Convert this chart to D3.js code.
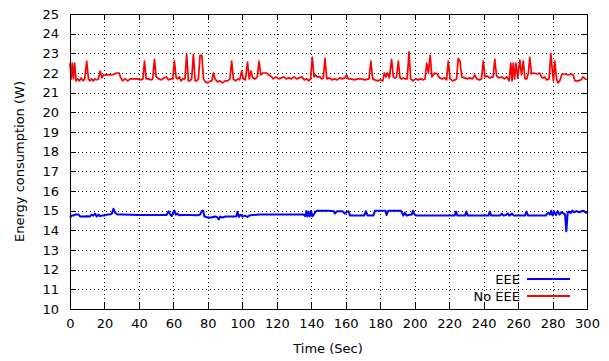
<!DOCTYPE html>
<html>
<head>
<meta charset="utf-8">
<script src="https://cdn.jsdelivr.net/npm/d3@7"></script>
<style>
  html, body { margin: 0; padding: 0; background: #fff; }
  svg { display: block; font-family: "DejaVu Sans", sans-serif; }
</style>
</head>
<body>
<svg id="chart" width="609" height="361"></svg>
<script>
// Power draw of the link over a 300 s capture, with and without Energy Efficient Ethernet
const noEeeTime = [0,0.7,1.3,2,2.7,3.5,4.5,5.5,6.5,7.5,8.5,9.7,10.7,11.5,12.5,13.5,14.5,15.5,16.5,17.5,18.5,19.5,22,25,27,28.5,29.5,30.5,32,33.5,35,37,39,41,42.3,43.2,44.2,45.5,47,48,49,50,51.5,53,54.5,56,57,58.5,59.6,60.6,61.6,62.5,63.5,64.5,65.5,66.7,67.7,68.7,69.5,70.6,71.6,72.6,73.5,74.5,75.5,76.5,77.5,78.5,80,81.5,82.3,83.2,84.2,85.5,87,88.5,90,91.5,92.8,93.8,94.8,96,97.5,98.5,99.6,100.6,101.8,103,104,105,106,107.5,108.7,109.7,110.7,112,114,115.5,117,118,119.5,121,122.5,124,125.5,127,128.5,130,131.5,133,134.5,136,137.5,138.5,139.6,140.6,141.6,142.5,143.5,145,146,147,148,149,150.5,152,153.5,155,156.5,158,159.5,160.5,161.5,163,165,167,169,171,173.5,174.6,175.6,177,178.5,180,181.5,182.4,183.3,184.2,185.3,186.6,187.6,188.5,189.5,190.5,191.5,192.5,193.5,194.5,195.7,196.7,197.7,199,200.5,202,203.5,205,206,207,208,209,210,211.5,213,214.5,216,217.5,218.5,219.5,220.5,222,223.5,224.3,225.3,226.3,227.3,229,230.5,232,233.5,235,236,237.5,238.8,239.8,240.8,242,243.5,245.5,246.5,247.5,249,250.5,252,253.5,254.8,255.8,256.5,257.2,258,258.8,259.8,261,262,263,264,265,266,266.8,267.8,269,271,272.5,273.6,274.5,275.5,276.5,278,279,280,280.5,281.3,282.3,283.2,284.2,285.5,287,289,291,292,293,295,296.5,297.7,299,300];
const noEeePower = [22.5,21.7,22.5,21.7,22.5,21.6,21.7,21.6,21.75,21.6,21.7,22.6,21.7,21.6,21.7,21.6,21.7,21.65,21.7,22.1,21.75,21.9,21.9,21.92,22.0,22.0,21.75,21.6,21.7,21.6,21.7,21.7,21.7,21.65,21.7,22.6,21.7,21.7,21.65,21.7,22.7,21.8,21.7,21.65,21.75,21.8,21.65,21.7,21.7,22.6,21.75,21.7,21.8,21.6,21.7,21.7,22.95,21.6,21.6,21.7,22.95,21.6,21.6,21.7,22.9,22.9,21.7,21.55,21.5,21.6,21.6,22.0,21.7,21.55,21.6,21.5,21.6,21.6,21.7,22.6,21.7,21.6,21.7,21.65,22.1,21.7,21.65,22.55,21.7,22.1,21.75,21.7,21.8,22.6,21.9,22.0,22.0,21.9,21.8,21.7,21.8,21.7,21.75,21.8,21.7,21.75,21.7,21.8,21.7,21.75,21.8,21.65,21.7,21.6,21.7,22.8,21.8,21.9,21.8,21.8,21.7,21.75,22.75,21.7,21.75,21.65,21.7,21.65,21.75,21.7,21.75,21.9,21.7,21.7,21.65,21.7,21.7,21.65,21.7,22.6,21.7,21.65,21.6,21.65,21.6,22.0,21.8,22.0,21.75,22.7,21.8,21.75,21.8,22.6,21.75,21.7,21.75,21.7,21.7,23.08,21.7,21.6,21.7,21.65,21.7,21.65,21.7,22.5,22.0,22.9,21.8,22.0,21.95,21.75,21.7,21.75,21.65,22.6,21.7,21.6,21.65,21.7,22.75,22.6,21.8,21.75,21.7,21.75,21.7,21.9,21.7,21.65,21.7,22.6,21.8,21.85,21.75,21.8,22.7,21.85,21.75,21.8,21.7,21.8,21.6,22.5,21.6,22.5,21.7,22.5,21.75,22.65,21.9,22.6,21.7,21.7,22.0,22.8,21.95,22.0,21.95,22.0,21.8,21.75,21.8,21.65,21.7,23.0,22.0,21.6,22.6,21.7,21.5,21.6,21.95,21.95,21.9,21.95,21.9,21.6,21.6,21.65,21.8,21.7,21.65];

const eeeTime = [0,1,2,3,5,6,8,10,11.5,12.5,13.5,14.5,15.5,16.5,17.5,18.5,20,21.5,23,24.3,25.2,26.2,27.5,30,40,50,56,57.2,58.2,59,59.8,60.6,61.4,62.3,63.3,65,70,74,75.5,76.5,77.3,78,80,82,84,85.3,86.3,87.2,88.5,90,93,95.5,96.5,97.2,98,99,100,101.5,103,104,106,110,120,130,135.5,136.5,137.2,137.8,138.5,139.2,139.9,140.6,141.5,142.5,143.5,150,153,153.7,154.8,158,159.6,160.6,161.6,162.5,165,170.7,171.7,172.7,175,176,177,183,183.7,184.7,192,193.4,194.3,195.3,196.5,198.3,199,200,201,210,220,223.2,224,224.8,229.2,230,230.8,242.8,243.6,244.4,249.5,250.5,251.5,253,254,255,256.5,257.5,264,264.9,265.8,276,277.5,278.5,279.3,280,281,282,283,284,285,286.5,287.3,288,288.8,289.5,290.5,291.5,292.5,294,295.5,297,298,299,300];
const eeePower = [14.65,14.75,14.75,14.8,14.8,14.7,14.7,14.72,14.7,14.8,14.75,14.85,14.7,14.8,14.72,14.75,14.75,14.8,14.8,14.85,15.1,14.9,14.8,14.8,14.78,14.78,14.78,14.97,14.8,14.72,14.9,15.0,14.8,14.85,14.77,14.78,14.78,14.77,14.8,14.98,15.0,14.7,14.65,14.65,14.7,14.68,14.55,14.7,14.65,14.7,14.7,14.7,14.72,14.95,14.68,14.8,14.7,14.75,14.68,14.75,14.78,14.8,14.8,14.8,14.8,14.72,14.98,14.7,14.95,14.72,14.98,14.72,14.8,14.95,15.0,15.0,14.97,14.85,14.97,14.97,14.85,14.95,14.97,14.75,14.75,14.75,14.97,14.75,14.75,14.75,15.0,15.0,14.78,15.0,15.0,14.75,14.9,14.75,14.78,14.8,15.0,14.8,14.75,14.75,14.75,14.75,14.95,14.75,14.75,14.95,14.75,14.75,14.95,14.75,14.75,14.85,14.75,14.78,14.86,14.75,14.85,14.75,14.75,14.95,14.75,14.75,14.9,14.8,15.0,14.75,14.95,14.78,14.98,14.8,14.92,14.85,14.8,13.95,14.9,14.95,14.88,15.0,14.92,14.98,14.92,14.97,15.0,14.92,14.88];

const xTicks = [0,20,40,60,80,100,120,140,160,180,200,220,240,260,280,300];
const yTicks = [10,11,12,13,14,15,16,17,18,19,20,21,22,23,24,25];
const seriesNames = ["EEE", "No EEE"];
const seriesColors = ["#0000ff", "#ff0000"];

const svg = d3.select("#chart");
const plot = { left: 70, right: 587, top: 14, bottom: 309 };

const x = d3.scaleLinear().domain([0, 300]).range([plot.left, plot.right]);
const y = d3.scaleLinear().domain([10, 25]).range([plot.bottom, plot.top]);

// dotted grid
const grid = svg.append("g").attr("stroke", "#000").attr("stroke-width", 1)
  .attr("stroke-dasharray", "1,3").attr("shape-rendering", "crispEdges");
grid.selectAll(".gx").data(xTicks.slice(1, -1)).join("line")
  .attr("x1", d => Math.round(x(d)) + 0.5).attr("x2", d => Math.round(x(d)) + 0.5)
  .attr("y1", plot.top).attr("y2", plot.bottom);
grid.selectAll(".gy").data(yTicks.slice(1, -1)).join("line")
  .attr("y1", d => Math.round(y(d)) + 0.5).attr("y2", d => Math.round(y(d)) + 0.5)
  .attr("x1", plot.left).attr("x2", plot.right);

// axes with inward ticks on all four sides
const tickLen = 6;
const fontSize = 13;
const axB = d3.axisBottom(x).tickValues(xTicks).tickSize(-tickLen).tickPadding(10);
const axT = d3.axisTop(x).tickValues(xTicks).tickSize(-tickLen).tickFormat("");
const axL = d3.axisLeft(y).tickValues(yTicks).tickSize(-tickLen).tickPadding(11);
const axR = d3.axisRight(y).tickValues(yTicks).tickSize(-tickLen).tickFormat("");

function styleAxis(g) {
  g.select(".domain").remove();
  g.selectAll("line").attr("stroke", "#000").attr("shape-rendering", "crispEdges");
  g.selectAll("text").attr("fill", "#000").style("font-size", fontSize + "px")
    .style("font-family", "'DejaVu Sans', sans-serif");
}
svg.append("g").attr("transform", `translate(0,${plot.bottom})`).call(axB).call(styleAxis);
svg.append("g").attr("transform", `translate(0,${plot.top})`).call(axT).call(styleAxis);
svg.append("g").attr("transform", `translate(${plot.left},0)`).call(axL).call(styleAxis);
svg.append("g").attr("transform", `translate(${plot.right},0)`).call(axR).call(styleAxis);

// series
const line = d3.line().x(d => x(d[0])).y(d => y(d[1]));
const eeeData = eeeTime.map((t, i) => [t, eeePower[i]]);
const noEeeData = noEeeTime.map((t, i) => [t, noEeePower[i]]);

svg.append("path").datum(eeeData).attr("d", line)
  .attr("fill", "none").attr("stroke", seriesColors[0]).attr("stroke-width", 2)
  .attr("stroke-linejoin", "round");
svg.append("path").datum(noEeeData).attr("d", line)
  .attr("fill", "none").attr("stroke", seriesColors[1]).attr("stroke-width", 1.7)
  .attr("stroke-linejoin", "round");

// frame
svg.append("rect").attr("x", plot.left + 0.5).attr("y", plot.top + 0.5)
  .attr("width", plot.right - plot.left).attr("height", plot.bottom - plot.top)
  .attr("fill", "none").attr("stroke", "#000").attr("stroke-width", 1)
  .attr("shape-rendering", "crispEdges");

// legend
const legend = svg.append("g");
seriesNames.forEach((name, i) => {
  const ly = 279 + i * 17;
  legend.append("text").attr("x", 520).attr("y", ly).attr("dy", "0.35em")
    .attr("text-anchor", "end").style("font-size", fontSize + "px").attr("fill", "#000")
    .text(name);
  legend.append("line").attr("x1", 527).attr("x2", 570).attr("y1", ly).attr("y2", ly)
    .attr("stroke", seriesColors[i]).attr("stroke-width", 1.8);
});

// axis titles
svg.append("text").attr("x", (plot.left + plot.right) / 2 - 0.5).attr("y", 353)
  .attr("text-anchor", "middle").style("font-size", fontSize + "px").attr("fill", "#000")
  .text("Time (Sec)");
svg.append("text").attr("transform", `translate(24,${(plot.top + plot.bottom) / 2}) rotate(-90)`)
  .attr("text-anchor", "middle").style("font-size", fontSize + "px").attr("fill", "#000")
  .text("Energy consumption (W)");
</script>
</body>
</html>
